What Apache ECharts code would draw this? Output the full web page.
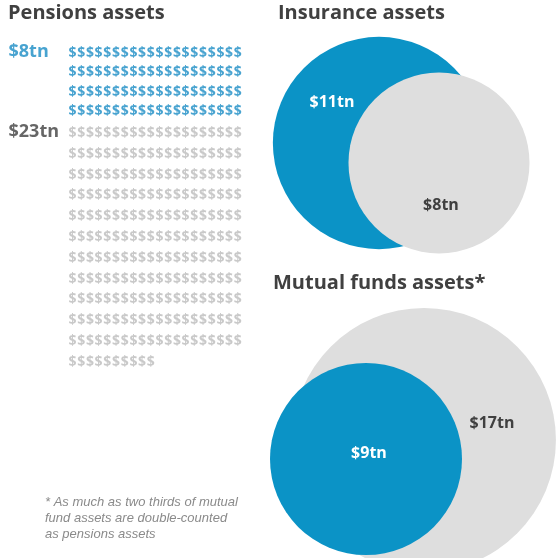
<!DOCTYPE html>
<html>
<head>
<meta charset="utf-8">
<script src="https://cdn.jsdelivr.net/npm/echarts@6/dist/echarts.min.js"></script>
<style>
html,body{margin:0;padding:0;background:#fff}
#main{width:558px;height:558px}
</style>
</head>
<body>
<div id="main"></div>
<script>
// pensions: one $ = $0.1tn, 20 per row
const pensionLabels = ['$8tn', '$23tn']
const pensionValues = [8, 23]
const insuranceLabels = ['$11tn', '$8tn']
const insuranceValues = [11, 8]
const mutualLabels = ['$9tn', '$17tn']
const mutualValues = [9, 17]
const footnote = ['* As much as two thirds of mutual', 'fund assets are double-counted', 'as pensions assets']

const BLUE = '#0b93c6'
const GREY = '#dedede'
const DARK = '#404040'
const font = '"Open Sans", sans-serif'

var mcharts = echarts.init(document.getElementById('main'))

// dollar grid layout
const perRow = 20
const colStep = 8.7
const x0 = 72.5
const blocks = [
    {top: 53, rowStep: 19.3, color: '#1a8cc4', labelColor: '#1a8cc4'},
    {top: 133, rowStep: 20.8, color: '#bcbcbc', labelColor: DARK}
]

const dollarSeries = pensionValues.map((v, g) => {
    const n = Math.round(v * 10)
    const pts = []
    for (let i = 0; i < n; i++) {
        pts.push([x0 + (i % perRow) * colStep, blocks[g].top + Math.floor(i / perRow) * blocks[g].rowStep])
    }
    return {
        type: 'scatter',
        silent: true,
        symbolSize: 1,
        itemStyle: {color: 'rgba(0,0,0,0)'},
        label: {
            show: true,
            position: 'inside',
            formatter: '$',
            color: blocks[g].color,
            fontFamily: font,
            fontWeight: 'bold',
            fontSize: 14
        },
        data: pts
    }
})

const pensionLabelSeries = {
    type: 'scatter',
    silent: true,
    symbolSize: 1,
    itemStyle: {color: 'rgba(0,0,0,0)'},
    data: pensionLabels.map((t, g) => ({
        value: [8, blocks[g].top - 1],
        label: {
            show: true,
            position: 'right',
            distance: 0,
            formatter: t,
            color: blocks[g].labelColor,
            fontFamily: font,
            fontWeight: 'bold',
            fontSize: 18
        }
    }))
}

// circle size: area proportional to value
const k = 32
function circle(center, value, text, color, textColor, offset, z) {
    return {
        type: 'scatter',
        silent: true,
        z: z,
        symbol: 'circle',
        symbolSize: 2 * k * Math.sqrt(value),
        itemStyle: {color: color, opacity: 1},
        label: {
            show: true,
            position: 'inside',
            offset: offset,
            formatter: text,
            color: textColor,
            fontFamily: font,
            fontWeight: 'bold',
            fontSize: 16
        },
        data: [[center[0], center[1], value]]
    }
}

const circleSeries = [
    circle([379, 143], insuranceValues[0], insuranceLabels[0], BLUE, '#fff', [-47, -41], 2),
    circle([439, 163], insuranceValues[1], insuranceLabels[1], GREY, DARK, [2, 42], 3),
    circle([424, 440], mutualValues[1], mutualLabels[1], GREY, DARK, [68, -17], 2),
    circle([366, 459], mutualValues[0], mutualLabels[0], BLUE, '#fff', [3, -6], 3)
]

const titleStyle = {fill: DARK, font: 'bold 20px ' + font, textVerticalAlign: 'middle'}

const option = {
    animation: false,
    grid: {left: 0, right: 0, top: 0, bottom: 0},
    xAxis: {type: 'value', min: 0, max: 558, show: false},
    yAxis: {type: 'value', min: 0, max: 558, inverse: true, show: false},
    series: dollarSeries.concat([pensionLabelSeries]).concat(circleSeries),
    graphic: [
        {type: 'text', left: 8, top: 3, style: Object.assign({text: 'Pensions assets'}, titleStyle)},
        {type: 'text', left: 278, top: 3, style: Object.assign({text: 'Insurance assets'}, titleStyle)},
        {type: 'text', left: 273, top: 273, style: Object.assign({text: 'Mutual funds assets*'}, titleStyle)},
        {
            type: 'text', left: 45, top: 494, z: 10,
            style: {
                text: footnote.join('\n'),
                fill: '#8a8a8a',
                font: 'italic 13px "Liberation Sans", Arial, sans-serif',
                lineHeight: 16
            }
        }
    ]
}
mcharts.setOption(option)
</script>
</body>
</html>
